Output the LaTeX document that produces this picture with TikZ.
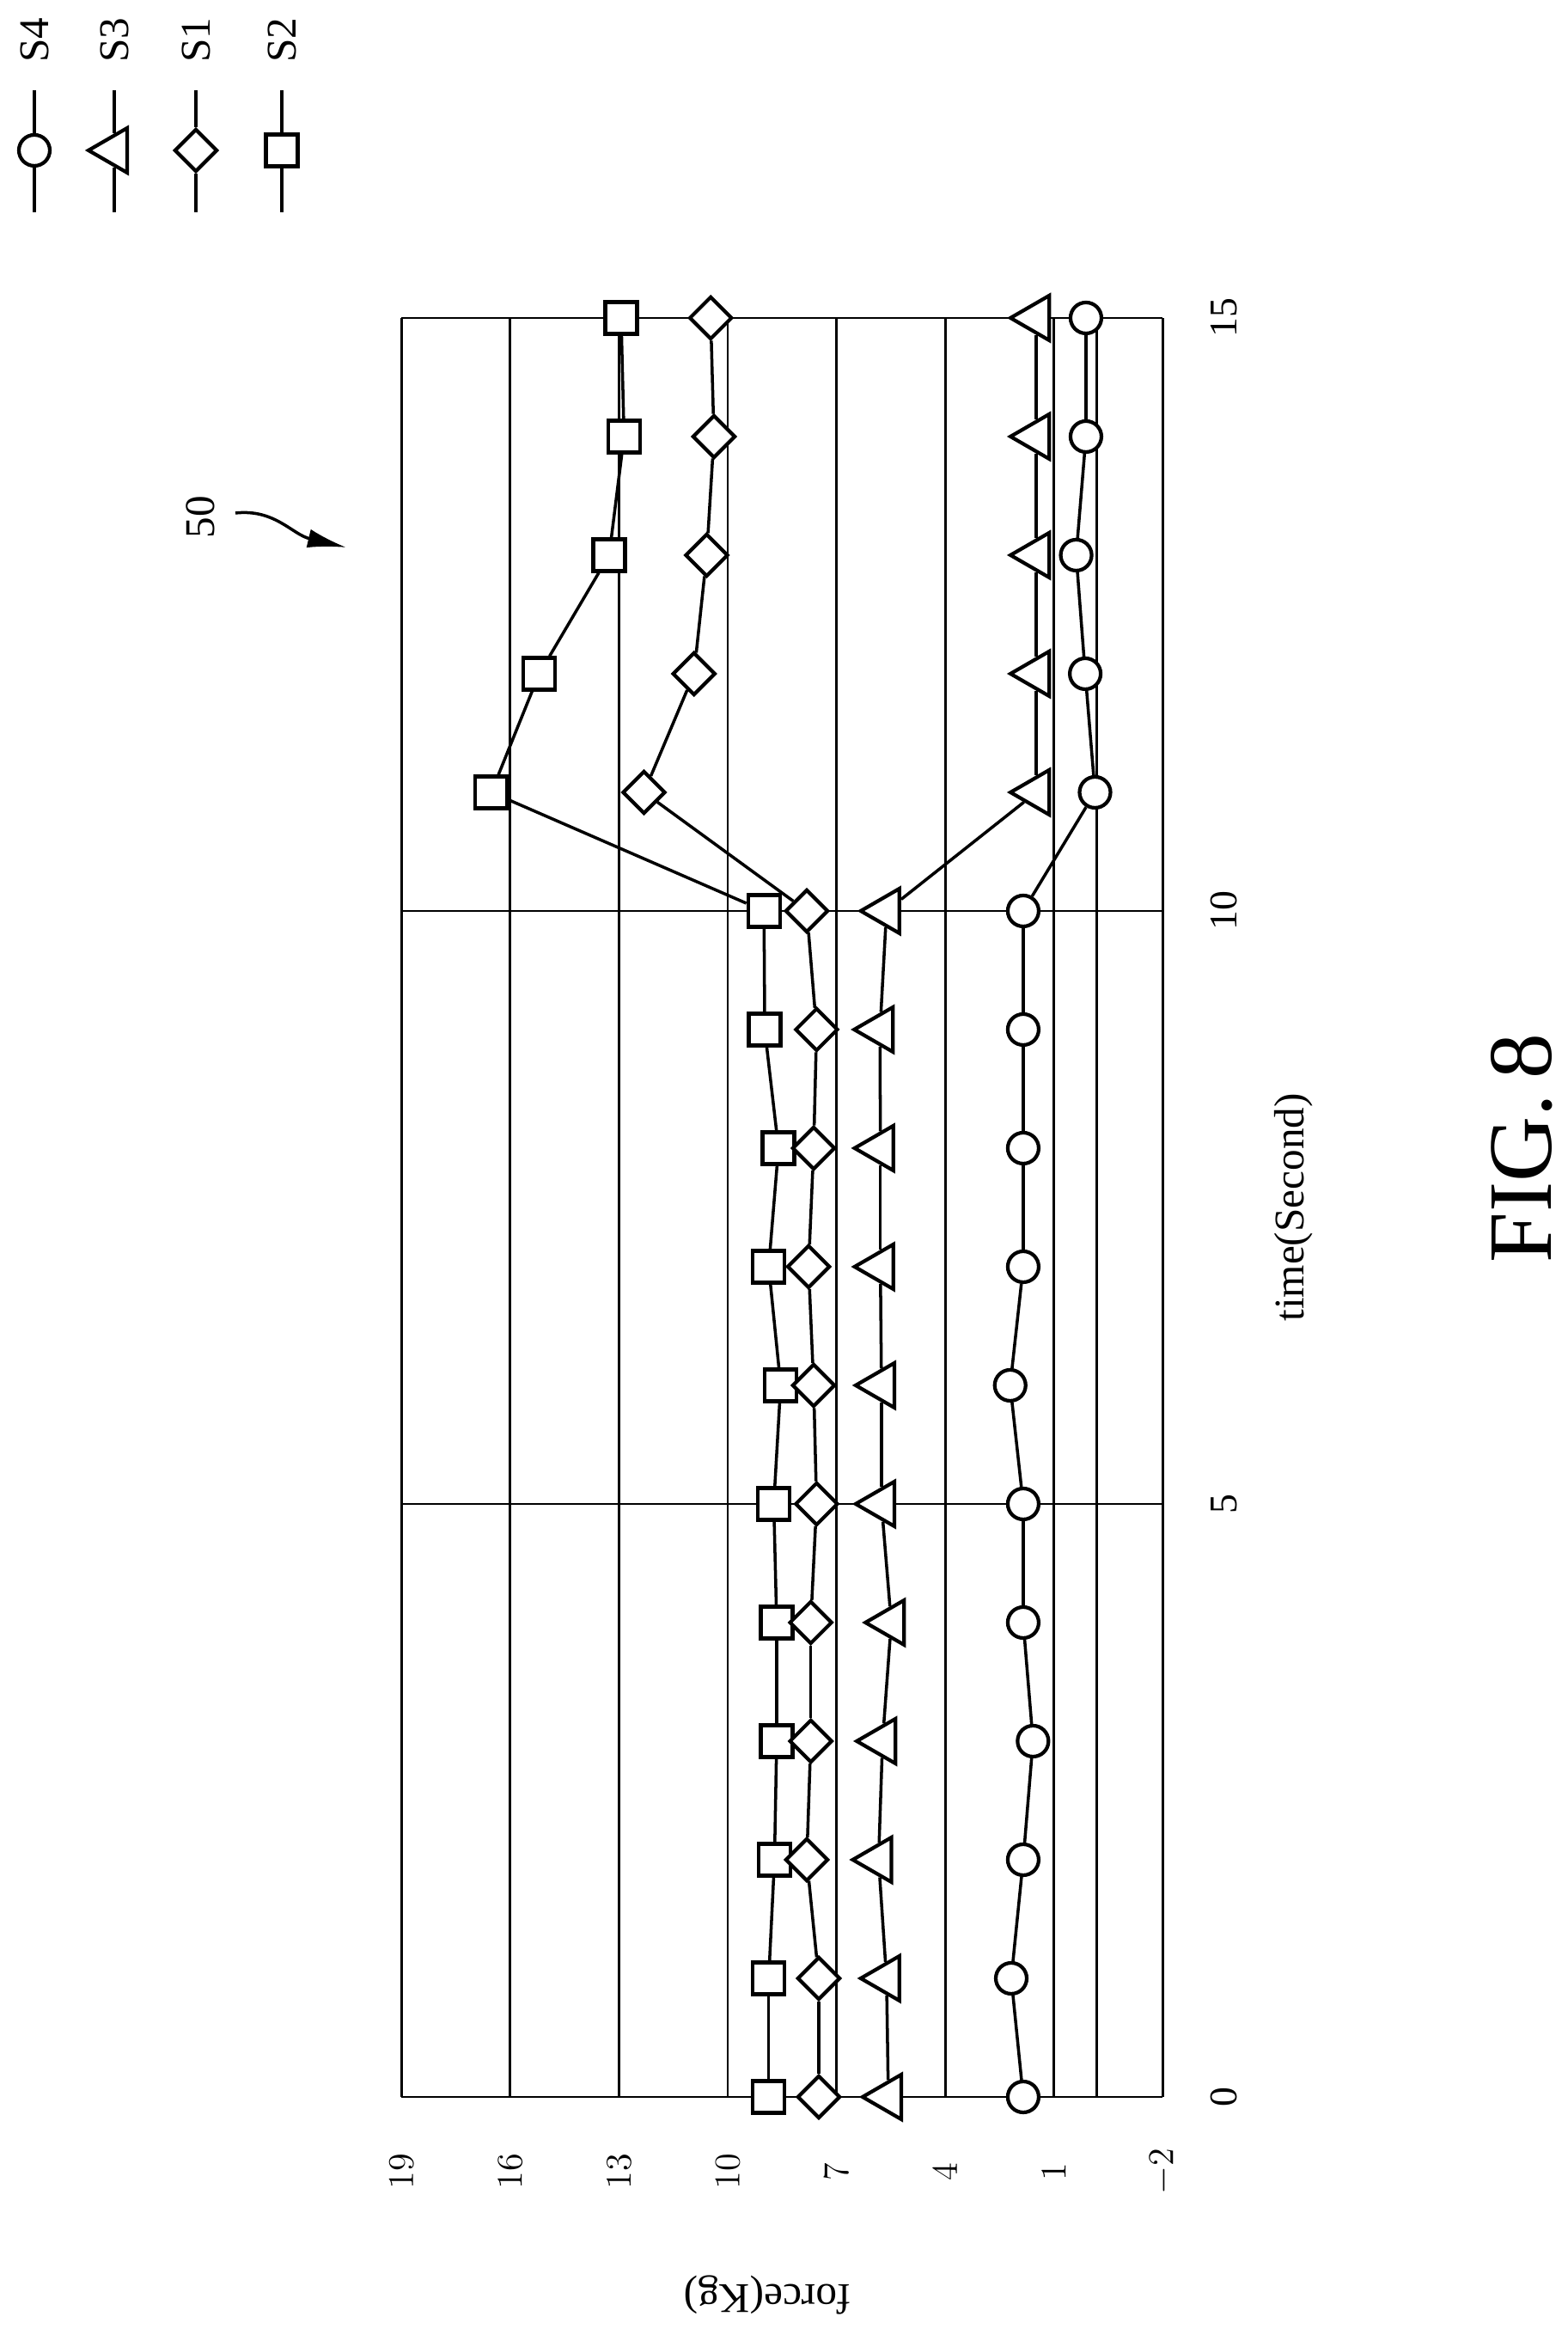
\documentclass[tikz,border=0pt]{standalone}
\usepackage{fontspec}
\setmainfont{Liberation Serif}
\usetikzlibrary{shapes.geometric}
\usetikzlibrary{arrows.meta}

\tikzset{
	gridline/.style={line width=0.8pt},
	serline/.style={line width=1pt},
	sqmark/.style={draw,fill=white,line width=1.2pt,inner sep=0pt,minimum size=0.37cm},
	dimark/.style={draw,fill=white,line width=1.2pt,diamond,aspect=1,inner sep=0pt,minimum size=0.5cm},
	trimark/.style={draw,fill=white,line width=1.2pt,regular polygon,regular polygon sides=3,shape border rotate=90,inner sep=0pt,minimum size=0.6cm},
	cirmark/.style={draw,fill=white,line width=1.2pt,circle,inner sep=0pt,minimum size=0.36cm},
	ticklbl/.style={rotate=90,font=\fontsize{13}{15}\selectfont}
}

\begin{document}
\begin{tikzpicture}[>=Latex]
	\useasboundingbox (0,0) rectangle (18.24,27.17);

	% legend
	\foreach \x/\m/\s in {0.40/cirmark/S4,1.33/trimark/S3,2.28/dimark/S1,3.28/sqmark/S2} {
		\coordinate (leg\s_top) at (\x,26.12);
		\coordinate (leg\s_bot) at (\x,24.70);
		\node [\m] (leg\s_mark) at (\x,25.42) {};
		\draw [serline] (leg\s_top) -- (leg\s_mark) -- (leg\s_bot);
		\node [ticklbl,font=\fontsize{14}{16}\selectfont] (leg\s_txt) at (\x,26.70) {\s};
	}

	% reference numeral
	\node [ticklbl,font=\fontsize{14}{16}\selectfont] (ref50) at (2.33,21.15) {50};
	\coordinate (ref50_tail) at (2.74,21.20);
	\coordinate (ref50_tip) at (4.03,20.80);
	\draw [line width=1pt,-{Latex[length=4.5mm,width=2.2mm]}] (ref50_tail) .. controls (3.2,21.25) and (3.4,20.95) .. (ref50_tip);

	\begin{scope}[xshift=12.69cm,yshift=2.77cm,x={(0cm,1.38cm)},y={(-0.422cm,0cm)}]
		% grid
		\foreach \f in {19,16,13,10,7,4,1,-0.17,-2}
			\draw [gridline] (0,\f) -- (15,\f);
		\foreach \t in {0,5,10,15}
			\draw [gridline] (\t,-2) -- (\t,19);

		% axis labels
		\foreach \f in {19,16,13,10,7,4,1,-2}
			\node [ticklbl] (flbl\f) at (-0.63,\f) {$\f$};
		\foreach \t in {0,5,10,15}
			\node [ticklbl] (tlbl\t) at (\t,-3.68) {\t};
		\node [ticklbl,font=\fontsize{14}{16}\selectfont] (tname) at (7.5,-5.6) {time(Second)};
		\node [rotate=180,font=\fontsize{14}{16}\selectfont] (fname) at (-1.67,8.9) {force(Kg)};
		\node [rotate=90,font=\fontsize{30}{34}\selectfont] (figname) at (8.0,-11.9) {FIG.\,8};

		% S2
		\foreach \t/\f in {0/8.87,1/8.87,2/8.71,3/8.65,4/8.65,5/8.73,6/8.54,7/8.87,8/8.6,9/8.98,10/9.0,11/16.52,12/15.2,13/13.27,14/12.86,15/12.94}
			\node [sqmark] (sq\t) at (\t,\f) {};
		% S1
		\foreach \t/\f in {0/7.49,1/7.49,2/7.82,3/7.71,4/7.71,5/7.55,6/7.63,7/7.77,8/7.63,9/7.55,10/7.82,11/12.31,12/10.93,13/10.58,14/10.38,15/10.47}
			\node [dimark] (di\t) at (\t,\f) {};
		% S3
		\foreach \t/\f in {0/5.57,1/5.62,2/5.84,3/5.73,4/5.49,5/5.76,6/5.76,7/5.79,8/5.79,9/5.8,10/5.62,11/1.49,12/1.49,13/1.49,14/1.49,15/1.49}
			\node [trimark] (tri\t) at (\t,\f) {};
		% S4
		\foreach \t/\f in {0/1.85,1/2.18,2/1.85,3/1.58,4/1.85,5/1.85,6/2.21,7/1.85,8/1.85,9/1.85,10/1.85,11/-0.13,12/0.14,13/0.39,14/0.12,15/0.12}
			\node [cirmark] (cir\t) at (\t,\f) {};

		\foreach \a [count=\b] in {0,...,14} {
			\draw [serline] (sq\a) -- (sq\b);
			\draw [serline] (di\a) -- (di\b);
			\draw [serline] (tri\a) -- (tri\b);
			\draw [serline] (cir\a) -- (cir\b);
		}
	\end{scope}
\end{tikzpicture}
\end{document}
